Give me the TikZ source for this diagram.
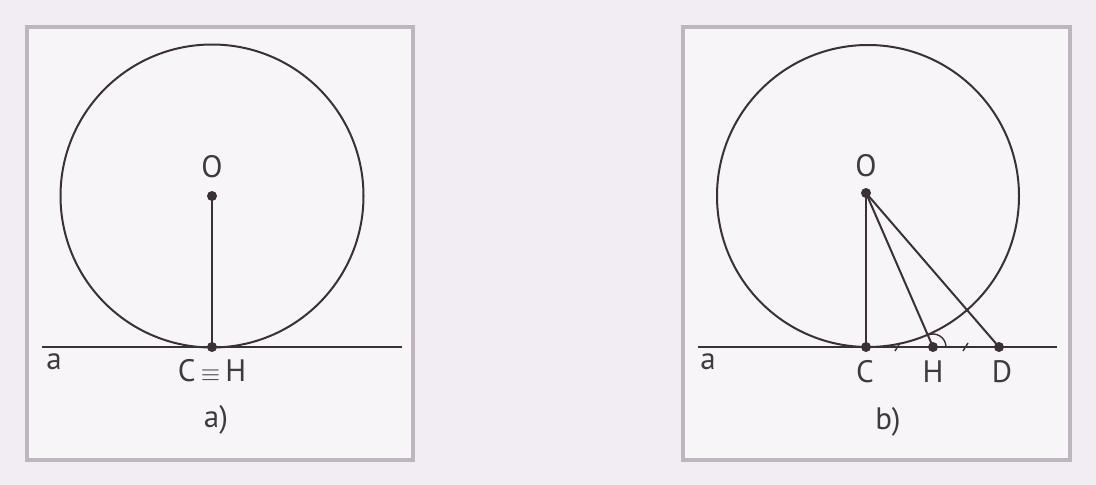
\documentclass[tikz,border=0pt]{standalone}
\usepackage{fontspec}
\setmainfont{PT Sans}
\definecolor{bgc}{RGB}{241,237,242}
\definecolor{panelc}{RGB}{247,245,248}
\definecolor{framec}{RGB}{190,182,190}
\definecolor{inkc}{RGB}{58,48,54}
\definecolor{txtc}{RGB}{62,58,62}
\tikzset{
  panel/.style={fill=panelc, draw=framec, line width=4pt},
  geo/.style={draw=inkc, line width=2pt},
  lbl/.style={text=txtc, font=\fontsize{31}{31}\selectfont, inner sep=0pt},
  pt/.style={circle, fill=inkc, inner sep=0pt, minimum size=10pt},
  tick/.style={draw=inkc, line width=1.4pt}
}
\begin{document}
\begin{tikzpicture}[x=1pt,y=-1pt]
\fill[bgc] (0,0) rectangle (1096,485);
\useasboundingbox (0,0) rectangle (1096,485);
% panels
\draw[panel] (27,27) rectangle (413,460);
\draw[panel] (683,27) rectangle (1070,460);
% ---------- a) ----------
\coordinate (Oa) at (212,196);
\draw[geo] (Oa) circle (151.5);
\coordinate (La1) at (42,347);
\coordinate (La2) at (402,347);
\draw[geo] (La1) -- (La2);
\node[pt] (pOa) at (Oa) {};
\node[pt] (pCa) at (212,347) {};
\draw[geo] (pOa.center) -- (pCa.center);
\node[lbl] (tOa) at (212,167) {O};
\node[lbl] (tCHa) at (212,371) {C\,$\equiv$\,H};
\node[lbl] (taa) at (54,362) {a};
\node[lbl] (tcapa) at (216,420) {a)};
% ---------- b) ----------
\coordinate (Ob) at (868,196);
\draw[geo] (Ob) circle (151);
\coordinate (Lb1) at (698,347);
\coordinate (Lb2) at (1057,347);
\draw[geo] (Lb1) -- (Lb2);
\node[pt] (pOb) at (866,193) {};
\node[pt] (pCb) at (866,347) {};
\node[pt] (pHb) at (933,347) {};
\node[pt] (pDb) at (999,347) {};
\draw[geo] (pOb.center) -- (pCb.center);
\draw[geo] (pOb.center) -- (pHb.center);
\draw[geo] (pOb.center) -- (pDb.center);
\draw[draw=inkc, line width=1.4pt] ([shift={(0:13)}]pHb.center) arc[start angle=0, end angle=-113.5, radius=13];
\draw[tick] (895,351) -- (900,343);
\draw[tick] (963,351) -- (968,343);
\node[lbl] (tOb) at (866,166) {O};
\node[lbl] (tCb) at (865,372) {C};
\node[lbl] (tHb) at (933,372) {H};
\node[lbl] (tDb) at (1002,372) {D};
\node[lbl] (tab) at (708,362) {a};
\node[lbl] (tcapb) at (888,422) {b)};
\end{tikzpicture}
\end{document}
